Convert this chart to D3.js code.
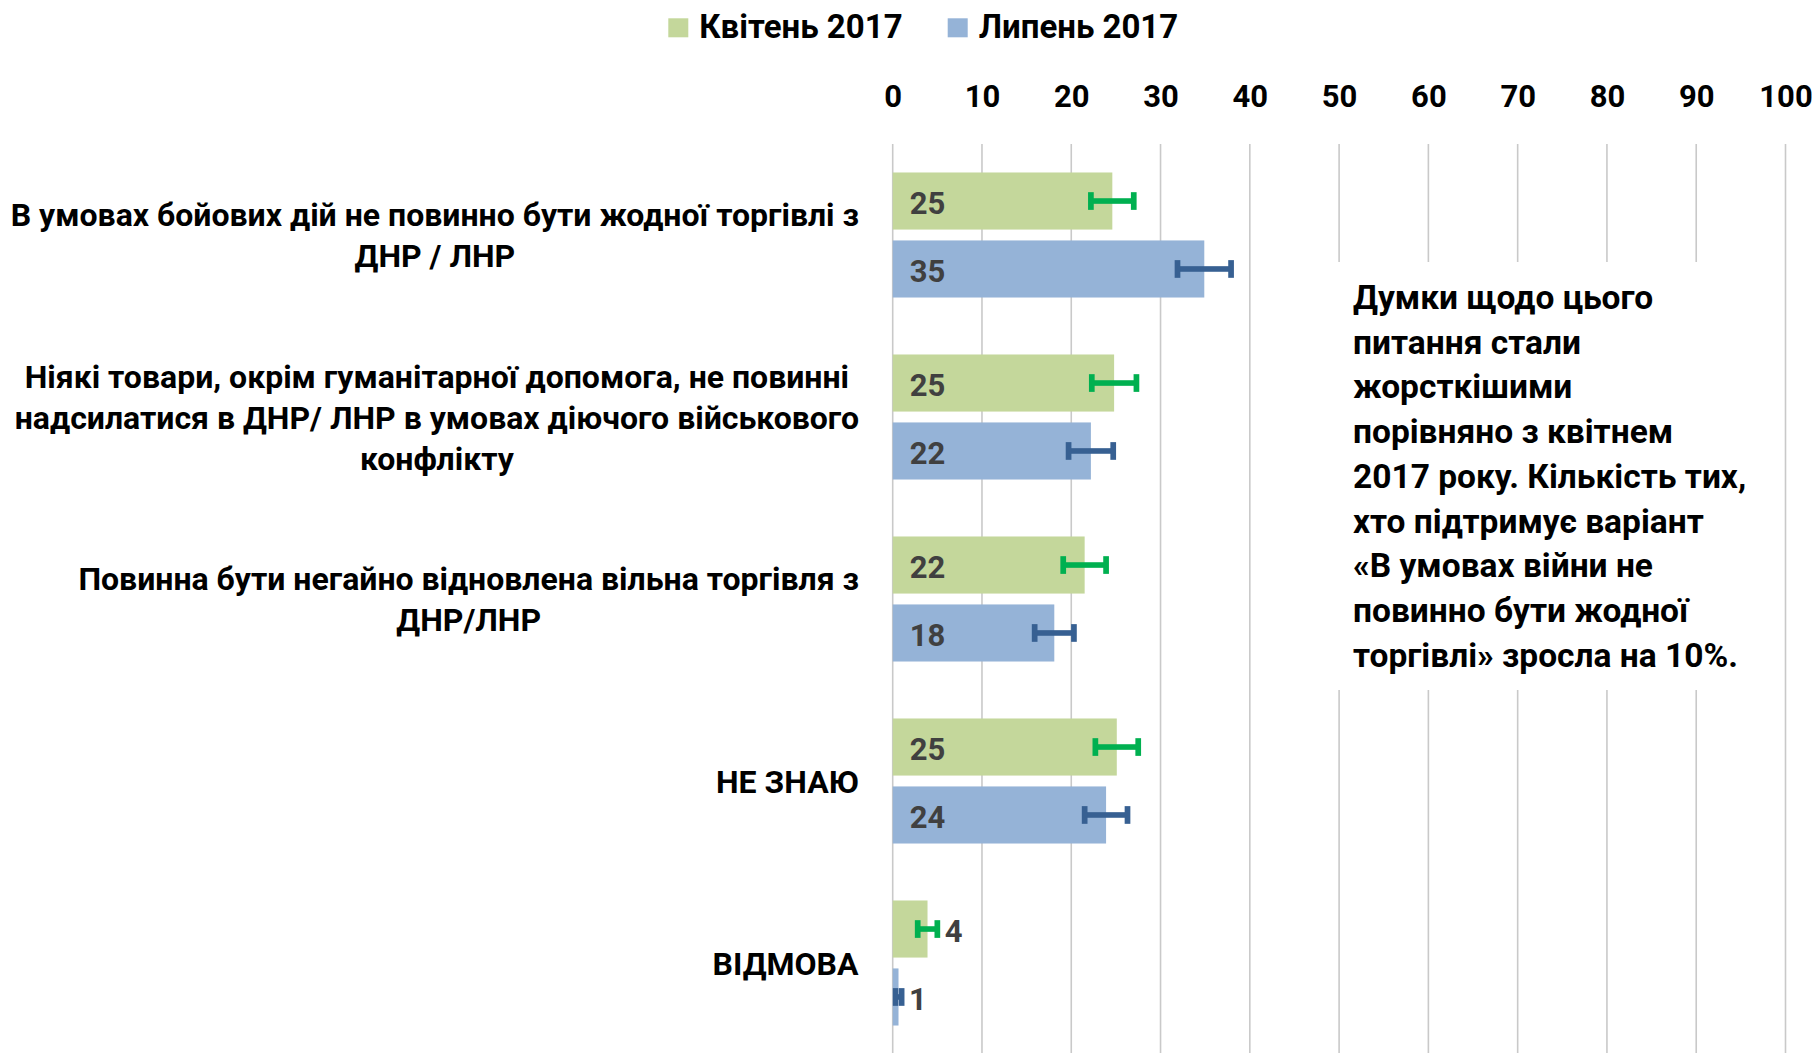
<!DOCTYPE html>
<html>
<head>
<meta charset="utf-8">
<script src="https://cdn.jsdelivr.net/npm/d3@7"></script>
<style>
  body { margin: 0; background: #fff; }
  svg { display: block; font-family: Roboto, "Open Sans", sans-serif; font-weight: 700; }
</style>
</head>
<body>
<svg id="chart" width="1818" height="1053"></svg>
<script>
// ---- data ----
const categories = [
  ["В умовах бойових дій не повинно бути жодної торгівлі з", "ДНР / ЛНР"],
  ["Ніякі товари, окрім гуманітарної допомога, не повинні", "надсилатися в ДНР/ ЛНР в умовах діючого військового", "конфлікту"],
  ["Повинна бути негайно відновлена вільна торгівля з", "ДНР/ЛНР"],
  ["НЕ ЗНАЮ"],
  ["ВІДМОВА"]
];
const seriesNames = ["Квітень 2017", "Липень 2017"];
const april = [24.6, 24.8, 21.5, 25.1, 3.9];
const july = [34.9, 22.2, 18.1, 23.9, 0.65];
const aprilErr = [2.4, 2.5, 2.4, 2.4, 1.1];
const julyErr = [3.0, 2.5, 2.2, 2.4, 0.35];
const tickValues = [0, 10, 20, 30, 40, 50, 60, 70, 80, 90, 100];
const note = [
  "Думки щодо цього",
  "питання стали",
  "жорсткішими",
  "порівняно з квітнем",
  "2017 року. Кількість тих,",
  "хто підтримує варіант",
  "«В умовах війни не",
  "повинно бути жодної",
  "торгівлі» зросла на 10%."
];

const barColors = ["#c4d79b", "#95b3d7"];
const errColors = ["#00b050", "#376092"];

const svg = d3.select("#chart");
const width = 1818, height = 1053;

const x = d3.scaleLinear().domain([0, 100]).range([892.7, 1785.5]);
const y = d3.scaleBand().domain(d3.range(categories.length))
  .range([144, 1054]).paddingInner(0.313).paddingOuter(0.1565);
const ySub = d3.scaleBand().domain([0, 1]).range([0, y.bandwidth()]).paddingInner(0.16);

svg.append("rect").attr("width", width).attr("height", height).attr("fill", "#fff");

// gridlines
svg.append("g").selectAll("line")
  .data(tickValues)
  .join("line")
  .attr("x1", d => x(d)).attr("x2", d => x(d))
  .attr("y1", 144).attr("y2", height)
  .attr("stroke", "#c9c9c9").attr("stroke-width", 1.6);

// top axis labels
const axis = svg.append("g")
  .attr("transform", "translate(0,106.5)")
  .call(d3.axisTop(x).tickValues(tickValues).tickSize(0).tickPadding(0));
axis.select(".domain").remove();
axis.selectAll("text")
  .attr("font-size", 31).attr("font-family", "Roboto, sans-serif")
  .attr("font-weight", 700).attr("fill", "#000");

// note box (hides gridlines behind it)
svg.append("rect")
  .attr("x", 1333).attr("y", 262).attr("width", 448).attr("height", 428)
  .attr("fill", "#fff");
svg.append("text")
  .attr("x", 1353).attr("y", 309)
  .attr("font-size", 33.5).attr("fill", "#000")
  .selectAll("tspan")
  .data(note)
  .join("tspan")
  .attr("x", 1353)
  .attr("dy", (d, i) => i ? 44.7 : 0)
  .text(d => d);

// rows
const rows = categories.map((c, i) => ({
  i,
  bars: [
    { s: 0, v: april[i], e: aprilErr[i] },
    { s: 1, v: july[i], e: julyErr[i] }
  ]
}));

svg.append("clipPath").attr("id", "plot")
  .append("rect").attr("x", x(0)).attr("y", 0).attr("width", x(100) - x(0)).attr("height", height);

const row = svg.append("g").selectAll("g")
  .data(rows)
  .join("g")
  .attr("transform", d => `translate(0,${y(d.i)})`);

const bar = row.selectAll("g")
  .data(d => d.bars)
  .join("g")
  .attr("transform", d => `translate(0,${ySub(d.s)})`);

bar.append("rect")
  .attr("x", x(0))
  .attr("y", 0)
  .attr("width", d => x(d.v) - x(0))
  .attr("height", ySub.bandwidth())
  .attr("fill", d => barColors[d.s]);

// error bars
const capW = 5.7, capH = 17.7;
const err = bar.append("g").attr("clip-path", "url(#plot)")
  .attr("fill", d => errColors[d.s]);
err.append("rect")
  .attr("x", d => x(d.v - d.e))
  .attr("y", ySub.bandwidth() / 2 - 2.8)
  .attr("width", d => x(d.v + d.e) - x(d.v - d.e))
  .attr("height", 5.6);
err.append("rect")
  .attr("x", d => x(d.v - d.e) - capW / 2)
  .attr("y", ySub.bandwidth() / 2 - capH / 2)
  .attr("width", capW).attr("height", capH);
err.append("rect")
  .attr("x", d => x(d.v + d.e) - capW / 2)
  .attr("y", ySub.bandwidth() / 2 - capH / 2)
  .attr("width", capW).attr("height", capH);

// value labels
bar.append("text")
  .attr("x", d => d.v < 8 ? x(d.v + d.e) + capW / 2 + 4.5 : x(0) + 17)
  .attr("y", ySub.bandwidth() / 2 + 1.7)
  .attr("dy", "0.36em")
  .attr("font-size", 31)
  .attr("fill", "#404040")
  .text(d => Math.round(d.v));

// category labels: lines centred in a block whose right edge sits at 859
const lineH = 41;
const labels = svg.append("g").selectAll("g")
  .data(categories)
  .join("g");
labels.each(function(lines, i) {
  const g = d3.select(this);
  const t = g.append("text")
    .attr("font-size", 32).attr("fill", "#000")
    .attr("text-anchor", "middle");
  t.selectAll("tspan")
    .data(lines)
    .join("tspan")
    .attr("x", 0)
    .attr("y", (d, k) => (k - (lines.length - 1) / 2) * lineH)
    .attr("dy", "0.36em")
    .text(d => d);
  const bb = t.node().getBBox();
  g.attr("transform", `translate(${859 - bb.x - bb.width},${y(i) + y.bandwidth() / 2})`);
});

// legend
const legend = svg.append("g").selectAll("g")
  .data(seriesNames)
  .join("g")
  .attr("transform", (d, i) => `translate(${[668.3, 947.7][i]},0)`);
legend.append("rect")
  .attr("x", 0).attr("y", 18.3).attr("width", 20).attr("height", 19)
  .attr("fill", (d, i) => barColors[i]);
legend.append("text")
  .attr("x", 31).attr("y", 38)
  .attr("font-size", 33).attr("fill", "#000")
  .text(d => d);
</script>
</body>
</html>
